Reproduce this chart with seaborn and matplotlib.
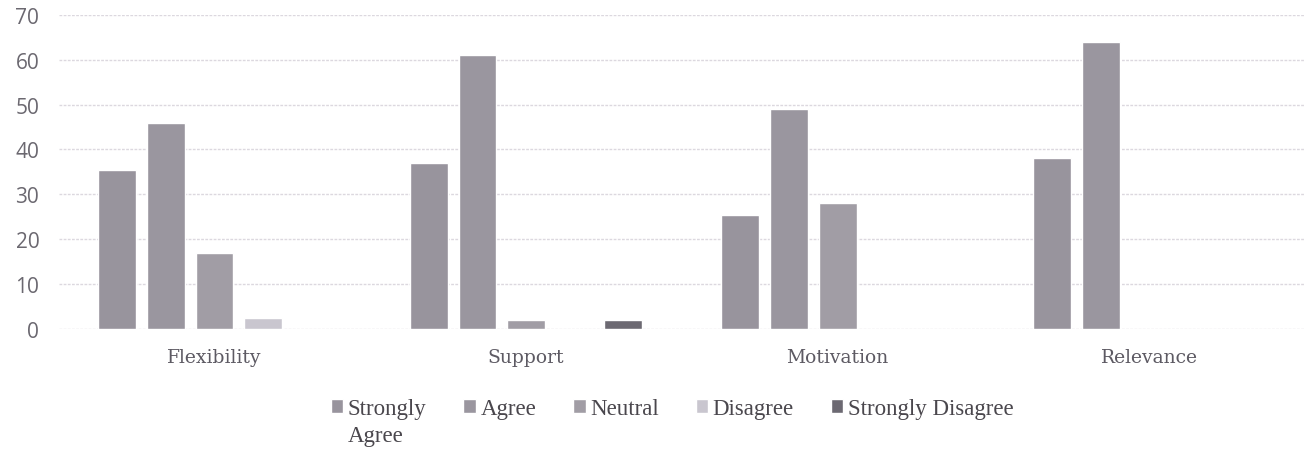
import numpy as np
import pandas as pd
import matplotlib.pyplot as plt
import seaborn as sns

categories = ["Flexibility", "Support", "Motivation", "Relevance"]
responses = ["Strongly Agree", "Agree", "Neutral", "Disagree", "Strongly Disagree"]
strongly_agree = [35.5, 37, 25.5, 38]
agree = [46, 61, 49, 64]
neutral = [17, 2, 28, 0]
disagree = [2.5, 0, 0, 0]
strongly_disagree = [0, 2, 0, 0]

rows = []
for i, c in enumerate(categories):
    for r, vals in zip(responses, [strongly_agree, agree, neutral, disagree, strongly_disagree]):
        rows.append({"Category": c, "Response": r, "Value": vals[i]})
df = pd.DataFrame(rows)

sns.set_style("white")
colors = ["#98939e", "#9a95a0", "#a19ca6", "#c9c4d0", "#6c6873"]
txt = "#6b6870"

fig = plt.figure(figsize=(13.05, 4.52), dpi=100)
ax = fig.add_axes([0.045, 0.27, 0.955, 0.695])
sns.barplot(data=df, x="Category", y="Value", hue="Response", hue_order=responses,
            palette=colors, width=0.78, gap=0.22, ax=ax, legend=True)
ax.set_ylim(0, 70)
ax.set_xlim(-0.5, 3.5)
ax.set_yticks(range(0, 71, 10))
ax.yaxis.grid(True, color="#dcd8df", linewidth=1, linestyle=(0, (2, 1)))
ax.set_axisbelow(True)
for s in ax.spines.values():
    s.set_visible(False)
ax.set_xlabel("")
ax.set_ylabel("")
ax.tick_params(axis="y", length=0, labelsize=15, labelcolor=txt, pad=14)
ax.tick_params(axis="x", length=0, labelsize=13.5, labelcolor="#5d5a63", pad=14)
for lab in ax.get_xticklabels():
    lab.set_fontfamily("DejaVu Serif")
for lab in ax.get_yticklabels():
    lab.set_fontfamily("Open Sans")

# legend: "Strongly Agree" wraps onto a second line like the original
handles, labels = ax.get_legend_handles_labels()
labels = ["Strongly" if l == "Strongly Agree" else l for l in labels]
ax.legend_.remove()
leg = fig.legend(handles, labels, loc="center", bbox_to_anchor=(0.515, 0.093),
                 ncol=5, frameon=False, handlelength=0.55, handleheight=0.55,
                 handletextpad=0.2, columnspacing=1.6,
                 prop={"family": "Liberation Serif", "size": 16.5}, labelcolor="#4a474d")
fig.canvas.draw()
bb = leg.get_texts()[0].get_window_extent().transformed(fig.transFigure.inverted())
fig.text(bb.x0, bb.y0 - 0.012, "Agree", ha="left", va="top",
         family="Liberation Serif", size=16.5, color="#4a474d")
fig.savefig("out.png", dpi=100)
